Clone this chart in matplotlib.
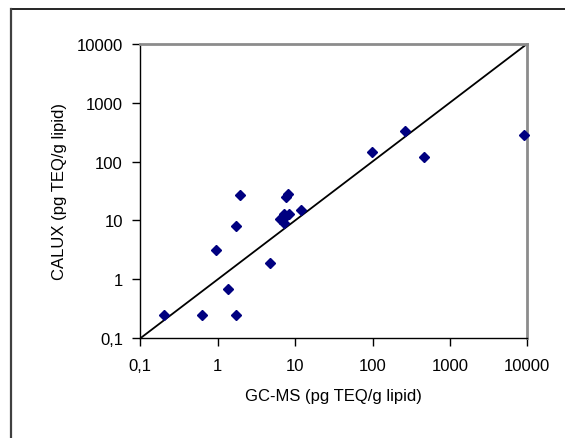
import matplotlib
matplotlib.use("Agg")
import matplotlib.pyplot as plt
from matplotlib.lines import Line2D

plt.rcParams['font.family'] = ['Liberation Sans', 'DejaVu Sans']

# GC-MS vs CALUX (pg TEQ/g lipid)
gcms = [0.2, 0.63, 1.72, 1.37, 0.94, 1.72, 1.97, 4.8,
        6.4, 7.0, 7.2, 7.2, 8.4, 7.6, 8.2, 12.0,
        99, 266, 465, 8980]
calux = [0.25, 0.25, 0.25, 0.70, 3.1, 7.9, 27.4, 1.9,
         10.6, 10.4, 12.8, 9.0, 12.8, 25, 27.7, 15.2,
         145, 336, 120, 287]

ticks = [0.1, 1, 10, 100, 1000, 10000]
tick_labels = ["0,1", "1", "10", "100", "1000", "10000"]

fig = plt.figure(figsize=(5.65, 4.39), dpi=100)
ax = fig.add_axes([140.3 / 565, 1 - 339.3 / 439, 387 / 565, 294.6 / 439])

# 1:1 line
ax.plot([0.1, 10000], [0.1, 10000], color="black", lw=1.3, zorder=2)
ax.plot(gcms, calux, linestyle="none", marker="D", ms=5.6,
        color="#000080", mec="#000080", zorder=3, clip_on=False)

ax.set_xscale("log")
ax.set_yscale("log")
ax.set_xlim(0.1, 10000)
ax.set_ylim(0.1, 10000)
ax.set_xticks(ticks)
ax.set_xticklabels(tick_labels)
ax.set_yticks(ticks)
ax.set_yticklabels(tick_labels)
ax.minorticks_off()
ax.tick_params(direction="out", length=6, width=1, labelsize=12, color="black")
ax.tick_params(axis="x", pad=8)
ax.tick_params(axis="y", pad=6.5)

for s in ["left", "bottom"]:
    ax.spines[s].set_color("black")
    ax.spines[s].set_linewidth(1)
for s in ["top", "right"]:
    ax.spines[s].set_color("#8c8c8c")
    ax.spines[s].set_linewidth(2)

ax.set_xlabel("GC-MS (pg TEQ/g lipid)", fontsize=12)
ax.set_ylabel("CALUX (pg TEQ/g lipid)", fontsize=12)
ax.xaxis.set_label_coords(0.5, -0.17)
ax.yaxis.set_label_coords(-0.19, 0.5)

# outer chart border (runs off the right and bottom edges)
x0 = 11 / 565
y0 = 1 - 10 / 439
fig.add_artist(Line2D([x0, 1.05], [y0, y0], transform=fig.transFigure, color="black", lw=1.2))
fig.add_artist(Line2D([x0, x0], [-0.05, y0], transform=fig.transFigure, color="#404040", lw=1.6))

fig.savefig("out.png", dpi=100)
